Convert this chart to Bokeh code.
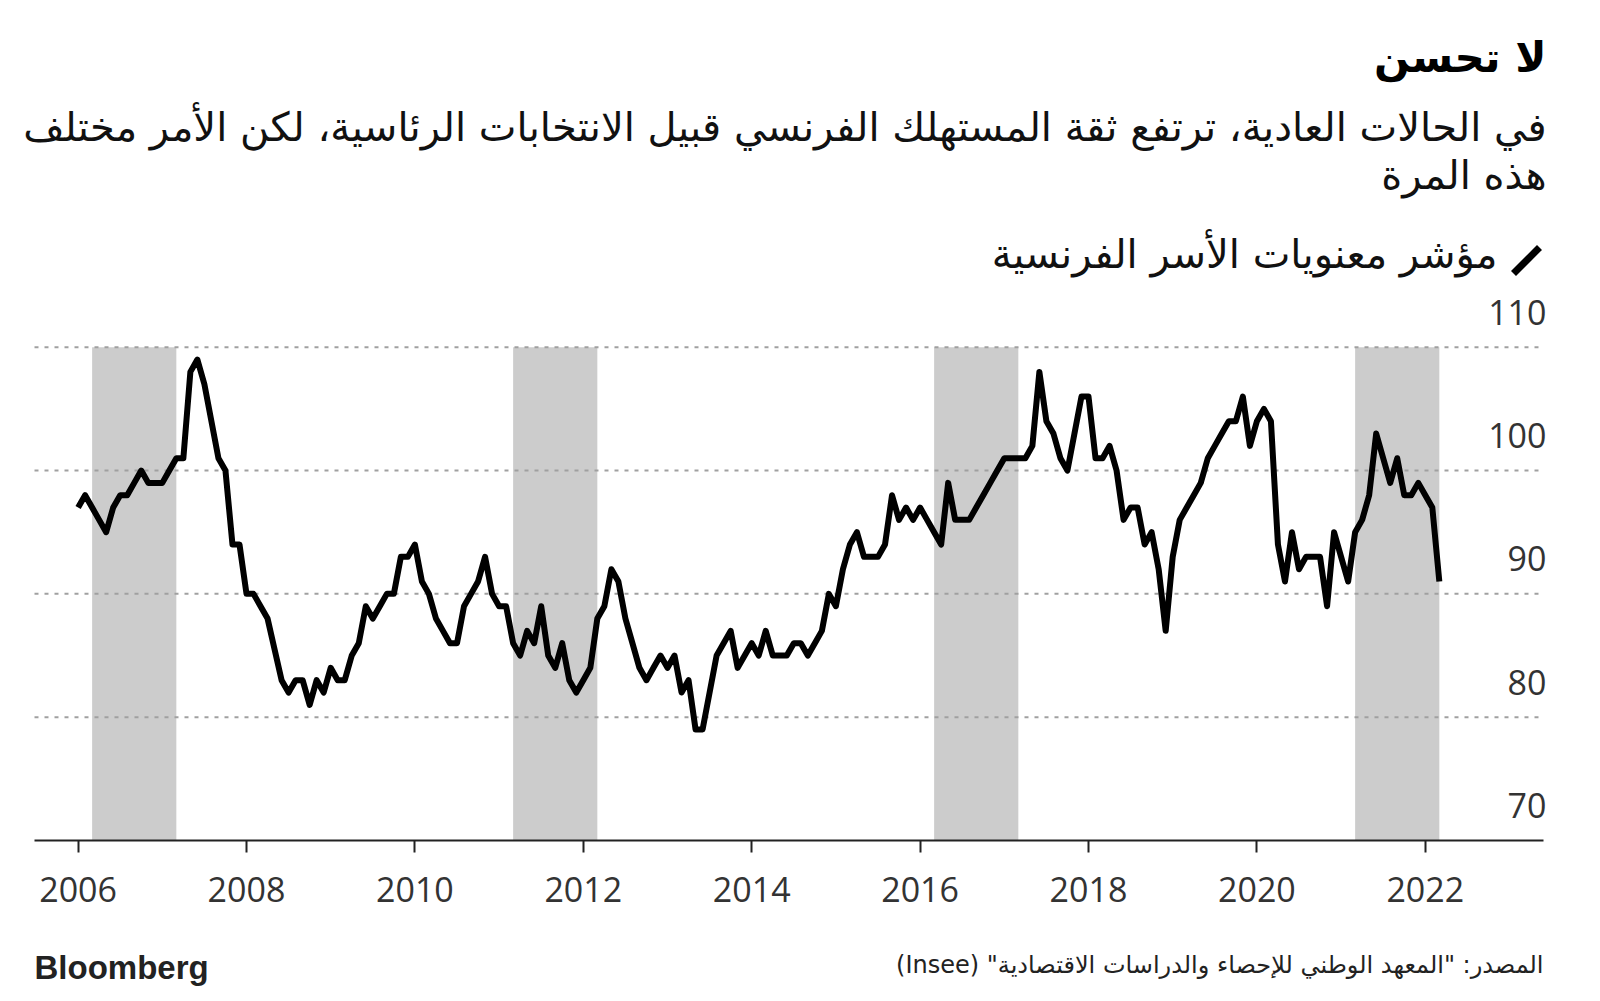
from bokeh.plotting import figure
from bokeh.models import Range1d, FixedTicker
from bokeh.layouts import column
from bokeh.core.properties import value
from bokeh.embed import file_html
from bokeh.resources import INLINE

# ---------------- texts ----------------
title_text = "لا تحسن"
subtitle_lines = [
    "في الحالات العادية، ترتفع ثقة المستهلك الفرنسي قبيل الانتخابات الرئاسية، لكن الأمر مختلف",
    "هذه المرة",
]
legend_label = "مؤشر معنويات الأسر الفرنسية"
source_text = "\u202bالمصدر: \"المعهد الوطني للإحصاء والدراسات الاقتصادية\" (Insee)\u202c"
brand_text = "Bloomberg"

# ---------------- data (monthly, from Jan 2006) ----------------
first_year = 2006
idx_2006 = [97, 98, 97, 96, 95, 97, 98, 98, 99, 100, 99, 99]
idx_2007 = [99, 100, 101, 101, 108, 109, 107, 104, 101, 100, 94, 94]
idx_2008 = [90, 90, 89, 88, 85.5, 83, 82, 83, 83, 81, 83, 82]
idx_2009 = [84, 83, 83, 85, 86, 89, 88, 89, 90, 90, 93, 93]
idx_2010 = [94, 91, 90, 88, 87, 86, 86, 89, 90, 91, 93, 90]
idx_2011 = [89, 89, 86, 85, 87, 86, 89, 85, 84, 86, 83, 82]
idx_2012 = [83, 84, 88, 89, 92, 91, 88, 86, 84, 83, 84, 85]
idx_2013 = [84, 85, 82, 83, 79, 79, 82, 85, 86, 87, 84, 85]
idx_2014 = [86, 85, 87, 85, 85, 85, 86, 86, 85, 86, 87, 90]
idx_2015 = [89, 92, 94, 95, 93, 93, 93, 94, 98, 96, 97, 96]
idx_2016 = [97, 96, 95, 94, 99, 96, 96, 96, 97, 98, 99, 100]
idx_2017 = [101, 101, 101, 101, 102, 108, 104, 103, 101, 100, 103, 106]
idx_2018 = [106, 101, 101, 102, 100, 96, 97, 97, 94, 95, 92, 87]
idx_2019 = [93, 96, 97, 98, 99, 101, 102, 103, 104, 104, 106, 102]
idx_2020 = [104, 105, 104, 94, 91, 95, 92, 93, 93, 93, 89, 95]
idx_2021 = [93, 91, 95, 96, 98, 103, 101, 99, 101, 98, 98, 99]
idx_2022 = [98, 97, 91]

yearly = [idx_2006, idx_2007, idx_2008, idx_2009, idx_2010, idx_2011, idx_2012,
          idx_2013, idx_2014, idx_2015, idx_2016, idx_2017, idx_2018, idx_2019,
          idx_2020, idx_2021, idx_2022]

# pre-election periods (year, month) start / end
shade_starts = [(2006, 3), (2011, 3), (2016, 3), (2021, 3)]
shade_ends = [(2007, 3), (2012, 3), (2017, 3), (2022, 3)]

x_ticks = [2006, 2008, 2010, 2012, 2014, 2016, 2018, 2020, 2022]
y_ticks = [70, 80, 90, 100, 110]
y_tick_labels = ["70", "80", "90", "100", "110"]

# ---------------- derived ----------------
xs, ys = [], []
for yi, vals in enumerate(yearly):
    for mi, v in enumerate(vals):
        xs.append(first_year + yi + mi / 12.0)
        ys.append(v)

def ym(t):
    return t[0] + (t[1] - 1) / 12.0

sh_left = [ym(t) for t in shade_starts]
sh_right = [ym(t) for t in shade_ends]

# ---------------- layout constants (page px) ----------------
W = 1600
px_per_year = 84.2
x_2006_px = 77.6
frame_left_px = 18
frame_right_px = 1562
axis_start_px = 34
axis_end_px = 1543
label_right_px = 1546
BL = frame_left_px
BR = W - frame_right_px

def px_to_year(px):
    return 2006 + (px - x_2006_px) / px_per_year

x_start = px_to_year(frame_left_px)
x_end = px_to_year(frame_right_px)
x_axis_start = px_to_year(axis_start_px)
x_axis_end = px_to_year(axis_end_px)
x_label = px_to_year(label_right_px)

AR = value("DejaVu Sans")

# ---------------- header (page coordinates) ----------------
HH = 290
h = figure(width=W, height=HH, x_range=Range1d(frame_left_px, frame_right_px),
           y_range=Range1d(HH, 0), output_backend="svg", toolbar_location=None,
           x_axis_location=None, y_axis_location=None,
           min_border_left=BL, min_border_right=BR, min_border_top=0, min_border_bottom=0)
h.outline_line_color = None
h.xgrid.visible = False
h.ygrid.visible = False

h.text(x=[1546], y=[57], text=[title_text], text_align="right", text_baseline="middle",
       text_font=AR, text_font_style="bold", text_font_size="42px", text_color="#000000")
h.text(x=[1546, 1546], y=[126, 174], text=subtitle_lines, text_align="right",
       text_baseline="middle", text_font=AR, text_font_size="40px", text_color="#111111")
h.text(x=[1497], y=[253], text=[legend_label], text_align="right", text_baseline="middle",
       text_font=AR, text_font_size="40px", text_color="#111111")
h.segment(x0=[1513], y0=[273], x1=[1539], y1=[247], line_width=7, line_color="#000000",
          line_cap="butt")

# ---------------- main chart ----------------
MH = 630
p = figure(width=W, height=MH, x_range=Range1d(x_start, x_end), y_range=Range1d(70, 114.6),
           output_backend="svg", toolbar_location=None, y_axis_location=None,
           min_border_left=BL, min_border_right=BR, min_border_top=0, min_border_bottom=80)
p.outline_line_color = None
p.xgrid.visible = False
p.ygrid.visible = False

p.quad(left=sh_left, right=sh_right, bottom=[y_ticks[0]] * len(sh_left),
       top=[y_ticks[-1]] * len(sh_left), fill_color="#cccccc", line_color=None)

grid_vals = y_ticks[1:]
p.segment(x0=[x_axis_start] * len(grid_vals), x1=[x_axis_end] * len(grid_vals),
          y0=grid_vals, y1=grid_vals, line_color="#a0a0a0", line_width=2, line_dash="4 6")

p.line(xs, ys, line_width=6, line_color="#000000", line_join="round")

p.text(x=[x_label] * len(y_ticks), y=y_ticks, text=y_tick_labels, text_align="right",
       text_baseline="middle", y_offset=-35, text_font=value("Open Sans"),
       text_font_size="34px", text_color="#333333")

ax = p.xaxis[0]
ax.ticker = FixedTicker(ticks=x_ticks)
ax.bounds = (x_axis_start, x_axis_end)
ax.axis_line_color = "#222222"
ax.axis_line_width = 2
ax.major_tick_in = 0
ax.major_tick_out = 12
ax.major_tick_line_width = 2
ax.major_tick_line_color = "#222222"
ax.minor_tick_line_color = None
ax.major_label_standoff = 24
ax.major_label_text_font = "Open Sans"
ax.major_label_text_font_size = "34px"
ax.major_label_text_color = "#333333"

# ---------------- footer (page coordinates) ----------------
FH = 80
f = figure(width=W, height=FH, x_range=Range1d(frame_left_px, frame_right_px),
           y_range=Range1d(HH + MH + FH, HH + MH), output_backend="svg",
           toolbar_location=None, x_axis_location=None, y_axis_location=None,
           min_border_left=BL, min_border_right=BR, min_border_top=0, min_border_bottom=0)
f.outline_line_color = None
f.xgrid.visible = False
f.ygrid.visible = False
f.text(x=[34], y=[967], text=[brand_text], text_align="left", text_baseline="middle",
       text_font=value("Liberation Sans"), text_font_style="bold", text_font_size="33px",
       text_color="#222222")
f.text(x=[1543], y=[964], text=[source_text], text_align="right", text_baseline="middle",
       text_font=AR, text_font_size="24px", text_color="#222222")

layout = column(h, p, f, spacing=0)
open("out.html", "w").write(file_html(layout, INLINE))
